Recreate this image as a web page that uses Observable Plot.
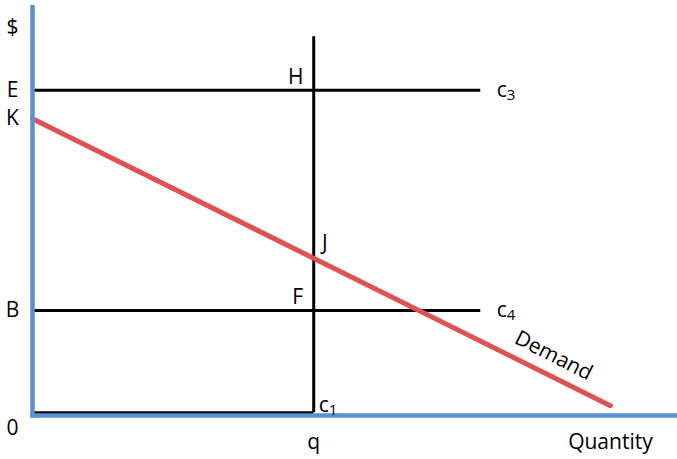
<!DOCTYPE html>
<html>
<head>
<meta charset="utf-8">
<script src="https://cdn.jsdelivr.net/npm/d3@7"></script>
<script src="https://cdn.jsdelivr.net/npm/@observablehq/plot@0.6"></script>
<style>
  html, body { margin: 0; padding: 0; background: #fff; }
  svg { display: block; }
</style>
</head>
<body>
<div id="chart"></div>
<script>
// Levels (data units: x 0..100, y 0..100)
const priceLevels = { E: 79.3, K: 72.4, B: 25.6 };
const qValue = 43.6;
const costLineEnd = 69.5;
const demandLine = [ {x: 0, y: 72.4}, {x: 89.6, y: 2.4} ];
const verticalTop = 92.4;
const bottomLevel = 0.7;

const yAxisLabels = [
  {label: "$", y: 94.6},
  {label: "E", y: priceLevels.E},
  {label: "K", y: priceLevels.K},
  {label: "B", y: priceLevels.B},
  {label: "0", y: -3.2}
];
// cost labels: letter "c" with subscript digit
const costLabels = [
  {base: "c", sub: "3", x: costLineEnd, y: priceLevels.E, dx: 16},
  {base: "c", sub: "4", x: costLineEnd, y: priceLevels.B, dx: 16},
  {base: "c", sub: "1", x: qValue, y: 2.6, dx: 5}
];
const pointLabels = [
  {label: "H", x: qValue, y: 82.4, dx: -18},
  {label: "F", x: qValue, y: 28.8, dx: -16},
  {label: "J", x: qValue, y: 42.0, dx: 11}
];
const xAxisLabels = [
  {label: "q", x: qValue},
  {label: "Quantity", x: 89.6}
];
const demandLabel = [{label: "Demand", x: 80.8, y: 14.6}];

const horiz = [
  {y: priceLevels.E, x1: 0.3, x2: costLineEnd},
  {y: priceLevels.B, x1: 0.3, x2: costLineEnd},
  {y: bottomLevel, x1: 0.3, x2: qValue}
];

const font = "'Open Sans', 'DejaVu Sans', sans-serif";
const blue = "#5b8fd3";
const red = "#e05252";

const chart = Plot.plot({
  width: 677,
  height: 459,
  marginLeft: 32,
  marginRight: 0,
  marginTop: 5,
  marginBottom: 44,
  style: {fontFamily: font, fontSize: "21px", background: "white"},
  x: {domain: [0, 100], axis: null},
  y: {domain: [0, 100], axis: null},
  marks: [
    Plot.ruleY(horiz, {y: "y", x1: "x1", x2: "x2", stroke: "black", strokeWidth: 3}),
    Plot.ruleX([qValue], {y1: bottomLevel, y2: verticalTop, stroke: "black", strokeWidth: 3}),
    Plot.line(demandLine, {x: "x", y: "y", stroke: red, strokeWidth: 5}),
    Plot.ruleX([0], {y1: -0.7, y2: 100, stroke: blue, strokeWidth: 4.5}),
    Plot.ruleY([0], {x1: -0.3, x2: 100, stroke: blue, strokeWidth: 4.5}),
    Plot.text(yAxisLabels, {x: 0, y: "y", text: "label", dx: -20, fill: "black"}),
    ...costLabels.flatMap(d => [
      Plot.text([d], {x: "x", y: "y", text: "base", dx: d.dx, dy: 0, textAnchor: "start", fill: "black"}),
      Plot.text([d], {x: "x", y: "y", text: "sub", dx: d.dx + 10, dy: 5, textAnchor: "start", fontSize: 15, fill: "black"})
    ]),
    ...pointLabels.map(d => Plot.text([d], {x: "x", y: "y", text: "label", dx: d.dx, fill: "black"})),
    Plot.text(xAxisLabels, {x: "x", y: -6.6, text: "label", fill: "black"}),
    Plot.text(demandLabel, {x: "x", y: "y", text: "label", rotate: 27, fill: "black"})
  ]
});
document.getElementById("chart").appendChild(chart);
</script>
</body>
</html>
